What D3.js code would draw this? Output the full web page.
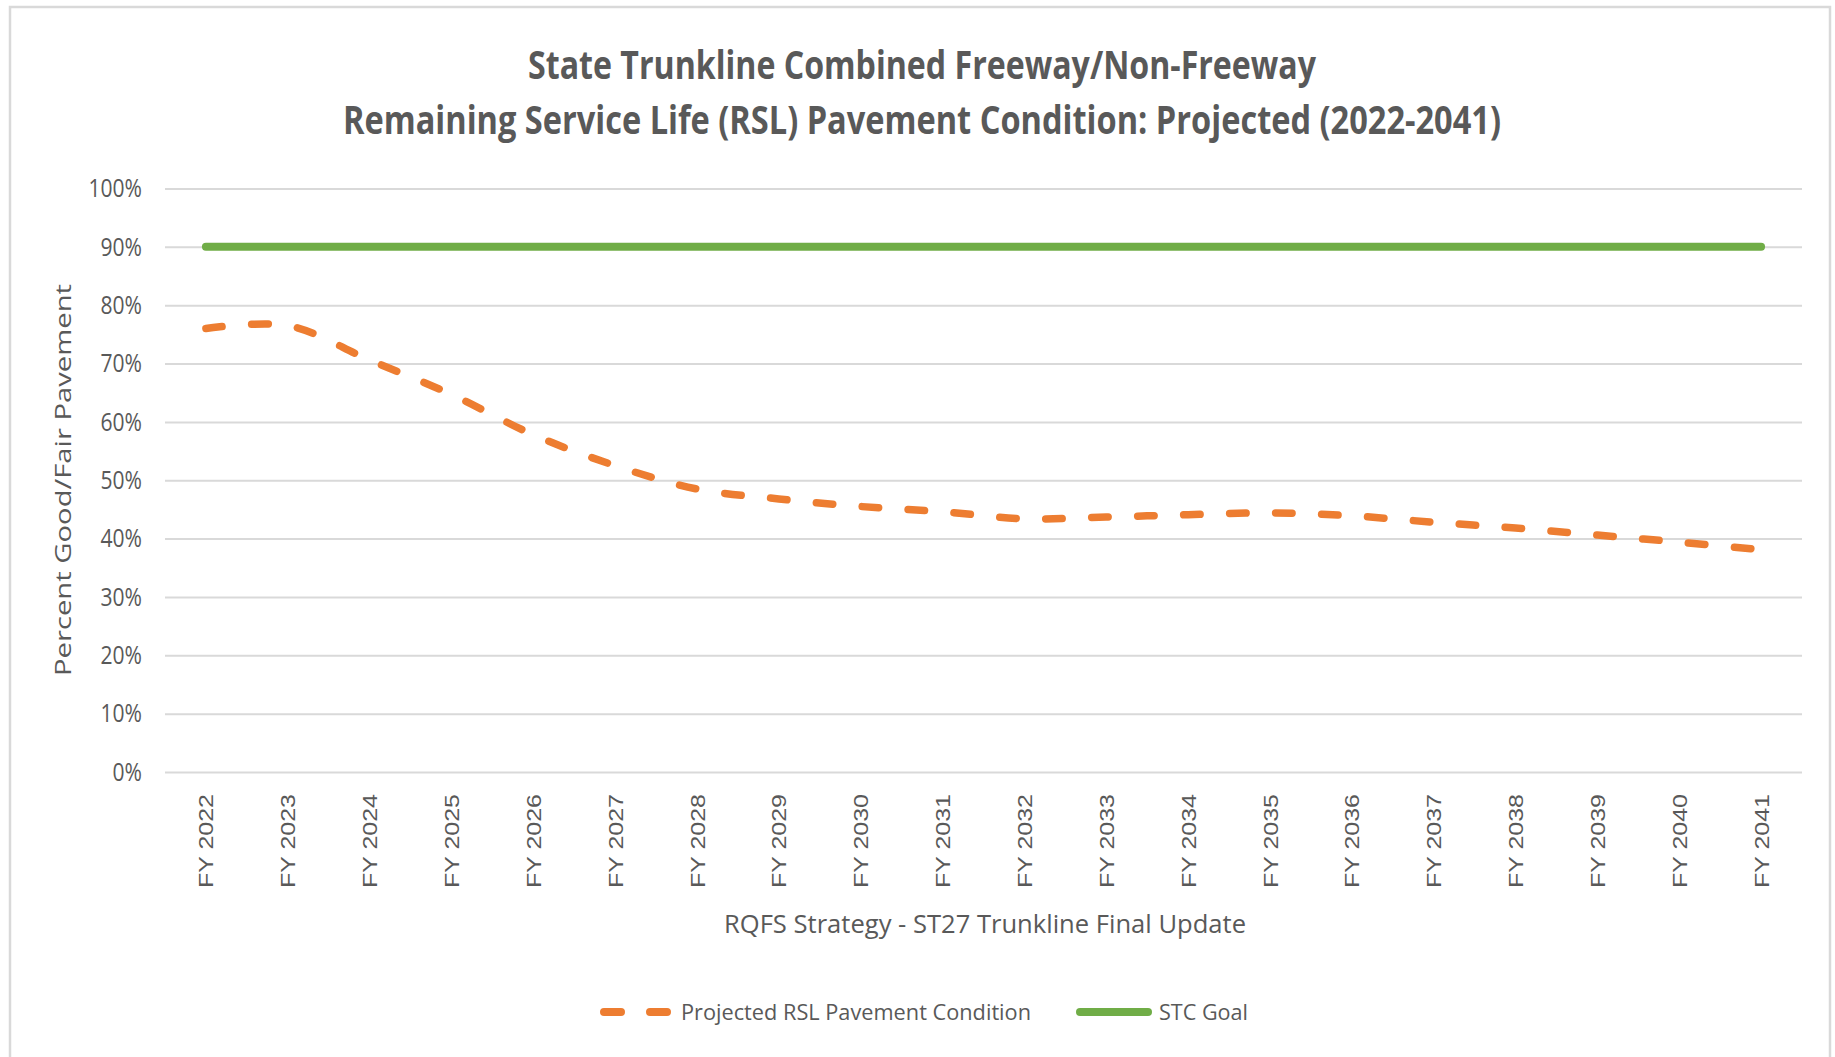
<!DOCTYPE html>
<html>
<head>
<meta charset="utf-8">
<script src="https://d3js.org/d3.v7.min.js"></script>
<style>
  body { margin: 0; background: #fff; font-family: "Open Sans", sans-serif; }
  .grid line { stroke: #d9d9d9; stroke-width: 2; }
  .lbl { fill: #595959; }
</style>
</head>
<body>
<div id="chart"></div>
<script>
// chart data
const years = ["FY 2022", "FY 2023", "FY 2024", "FY 2025", "FY 2026", "FY 2027", "FY 2028",
  "FY 2029", "FY 2030", "FY 2031", "FY 2032", "FY 2033", "FY 2034", "FY 2035", "FY 2036",
  "FY 2037", "FY 2038", "FY 2039", "FY 2040", "FY 2041"];
const projected = [76.0, 76.5, 70.6, 64.7, 57.8, 52.5, 48.5, 46.8, 45.5, 44.6,
  43.4, 43.7, 44.1, 44.4, 43.9, 42.8, 41.8, 40.6, 39.4, 38.1];
const stcGoal = [90, 90, 90, 90, 90, 90, 90, 90, 90, 90,
  90, 90, 90, 90, 90, 90, 90, 90, 90, 90];
const yTicks = [0, 10, 20, 30, 40, 50, 60, 70, 80, 90, 100];
const titleLines = ["State Trunkline Combined Freeway/Non-Freeway",
  "Remaining Service Life (RSL) Pavement Condition: Projected (2022-2041)"];
const xTitle = "RQFS Strategy - ST27 Trunkline Final Update";
const yTitle = "Percent Good/Fair Pavement";
const seriesNames = ["Projected RSL Pavement Condition", "STC Goal"];

const width = 1835, height = 1057;
const plot = { left: 165, right: 1802, top: 188.5, bottom: 772 };

const svg = d3.select("#chart").append("svg")
  .attr("width", width)
  .attr("height", height)
  .style("display", "block")
  .style("background", "#fff");

// outer chart-area border
svg.append("rect")
  .attr("x", 10).attr("y", 7)
  .attr("width", 1820).attr("height", 1100)
  .attr("fill", "none")
  .attr("stroke", "#d9d9d9")
  .attr("stroke-width", 2.5);

const x = d3.scalePoint()
  .domain(years)
  .range([plot.left, plot.right])
  .padding(0.5);

const y = d3.scaleLinear()
  .domain([0, 100])
  .range([plot.bottom, plot.top]);

// y axis + gridlines
const yScaleX = 0.81;
const yAxis = svg.append("g")
  .attr("class", "grid")
  .attr("transform", `translate(${plot.left},0)`)
  .call(d3.axisLeft(y)
    .tickValues(yTicks)
    .tickSize(-(plot.right - plot.left))
    .tickPadding(23 / yScaleX)
    .tickFormat(d => d + "%"));
yAxis.select(".domain").remove();
yAxis.selectAll("text")
  .attr("class", "lbl")
  .attr("transform", `scale(${yScaleX},1)`)
  .style("font-size", "26px")
  .style("font-family", "'Open Sans', sans-serif");

// x labels, rotated
svg.append("g").selectAll("text")
  .data(years)
  .join("text")
  .attr("class", "lbl")
  .attr("transform", d => `translate(${x(d)},794) rotate(-90)`)
  .attr("dy", "0.36em")
  .attr("text-anchor", "end")
  .attr("textLength", 94)
  .attr("lengthAdjust", "spacingAndGlyphs")
  .style("font-size", "21px")
  .style("font-family", "'Liberation Sans', Arial, sans-serif")
  .text(d => d);

// series
const line = d3.line()
  .x((d, i) => x(years[i]))
  .y(d => y(d))
  .curve(d3.curveCatmullRom.alpha(0.5));

svg.append("path")
  .datum(projected)
  .attr("d", line)
  .attr("fill", "none")
  .attr("stroke", "#ed7d31")
  .attr("stroke-width", 7.5)
  .attr("stroke-linecap", "round")
  .attr("stroke-dasharray", "16.5,29.5");

svg.append("path")
  .datum(stcGoal)
  .attr("d", d3.line().x((d, i) => x(years[i])).y(d => y(d)))
  .attr("fill", "none")
  .attr("stroke", "#70ad47")
  .attr("stroke-width", 8)
  .attr("stroke-linecap", "round");

// titles
const titleY = [79, 134], titleW = [788, 1158];
svg.append("g").selectAll("text")
  .data(titleLines)
  .join("text")
  .attr("class", "lbl")
  .attr("x", 922)
  .attr("y", (d, i) => titleY[i])
  .attr("text-anchor", "middle")
  .attr("textLength", (d, i) => titleW[i])
  .attr("lengthAdjust", "spacingAndGlyphs")
  .style("font-size", "39px")
  .style("font-weight", "bold")
  .text(d => d);

svg.append("text")
  .attr("class", "lbl")
  .attr("x", 985).attr("y", 933)
  .attr("text-anchor", "middle")
  .attr("textLength", 522)
  .attr("lengthAdjust", "spacingAndGlyphs")
  .style("font-size", "25px")
  .text(xTitle);

svg.append("text")
  .attr("class", "lbl")
  .attr("transform", "translate(70.5,480) rotate(-90)")
  .attr("text-anchor", "middle")
  .attr("textLength", 392)
  .attr("lengthAdjust", "spacingAndGlyphs")
  .style("font-size", "22px")
  .text(yTitle);

// legend
const legY = 1012;
svg.append("line")
  .attr("x1", 604).attr("x2", 667)
  .attr("y1", legY).attr("y2", legY)
  .attr("stroke", "#ed7d31")
  .attr("stroke-width", 8)
  .attr("stroke-linecap", "round")
  .attr("stroke-dasharray", "17,29");
svg.append("text")
  .attr("class", "lbl")
  .attr("x", 681).attr("y", 1020)
  .attr("textLength", 350)
  .attr("lengthAdjust", "spacingAndGlyphs")
  .style("font-size", "22px")
  .text(seriesNames[0]);

svg.append("line")
  .attr("x1", 1080).attr("x2", 1148)
  .attr("y1", legY).attr("y2", legY)
  .attr("stroke", "#70ad47")
  .attr("stroke-width", 8)
  .attr("stroke-linecap", "round");
svg.append("text")
  .attr("class", "lbl")
  .attr("x", 1159).attr("y", 1020)
  .attr("textLength", 89)
  .attr("lengthAdjust", "spacingAndGlyphs")
  .style("font-size", "22px")
  .text(seriesNames[1]);
</script>
</body>
</html>
